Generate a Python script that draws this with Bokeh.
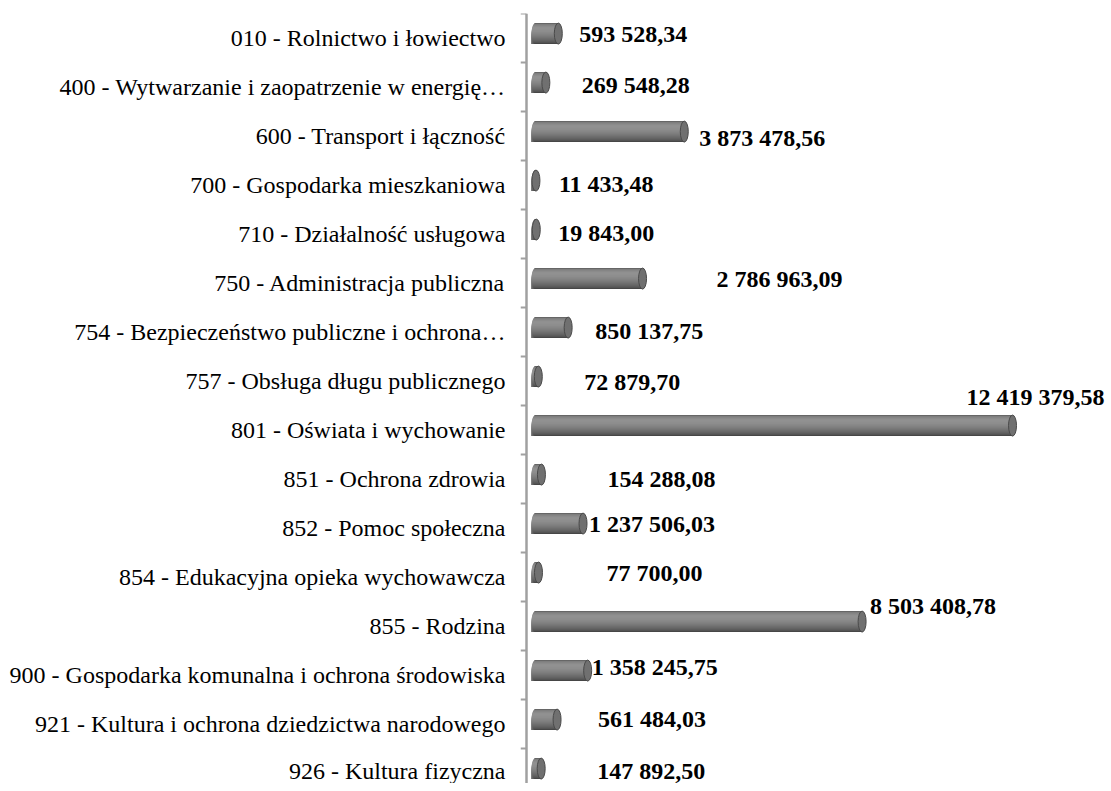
import numpy as np
from bokeh.plotting import figure
from bokeh.models import ColumnDataSource, Range1d, FixedTicker, Span
from bokeh.core.properties import value
from bokeh.embed import file_html
from bokeh.resources import INLINE

# ---------------- data ----------------
categories = [
    "010 - Rolnictwo i łowiectwo",
    "400 - Wytwarzanie i zaopatrzenie w energię…",
    "600 - Transport i łączność",
    "700 - Gospodarka mieszkaniowa",
    "710 - Działalność usługowa",
    "750 - Administracja publiczna",
    "754 - Bezpieczeństwo publiczne i ochrona…",
    "757 - Obsługa długu publicznego",
    "801 - Oświata i wychowanie",
    "851 - Ochrona zdrowia",
    "852 - Pomoc społeczna",
    "854 - Edukacyjna opieka wychowawcza",
    "855 - Rodzina",
    "900 - Gospodarka komunalna i ochrona środowiska",
    "921 - Kultura i ochrona dziedzictwa narodowego",
    "926 - Kultura fizyczna",
]
amounts = [593528.34, 269548.28, 3873478.56, 11433.48, 19843.00, 2786963.09,
           850137.75, 72879.70, 12419379.58, 154288.08, 1237506.03, 77700.00,
           8503408.78, 1358245.75, 561484.03, 147892.50]

# manual data-label placement (px, relative to bar end / bar centre), as in the original
label_dx = [17, 32, 11, 19, 18, 70, 23, 42, 88, 62, 2, 64, 4, 0, 37, 52]
label_dy = [0, 2, 6, 3, 3, 0, 3, 5, -29, 4, 0, 0, -16, -4, -1, 2]
label_right = [False] * 8 + [True] + [False] * 7

def fmt(v):
    return f"{v:,.2f}".replace(",", " ").replace(".", ",")

labels = [fmt(v) for v in amounts]

# ---------------- geometry / style ----------------
W, H = 1108, 783
LEFT = 520
TOP = 13
FRAME_W = W - LEFT
DPP = 26036.0                               # data units per pixel
X_START = -15 * DPP
X_END = X_START + FRAME_W * DPP
TICK_LEN = 6
AXIS_X = X_START + TICK_LEN * DPP
CAP = 4 * DPP                               # half width of cylinder end (data)
ROW_PX = 49
HH = 10.5 / ROW_PX                          # half bar height (rows)
SHIFT = -0.09                               # bars slightly above row centre
n = len(categories)
rows = np.arange(n)

NS = 21
ts = np.linspace(-1, 1, NS + 1)
ctrl_t = [-1.0, -0.85, -0.55, -0.2, 0.2, 0.6, 0.85, 1.0]
ctrl_v = [0x5a, 0x80, 0x92, 0x8e, 0x7e, 0x68, 0x56, 0x40]

sx_l, sx_r, sy, sh, sc = [], [], [], [], []
for i, v in enumerate(amounts):
    yc = i + SHIFT
    for k in range(NS):
        t0 = ts[k]
        tm = (ts[k] + ts[k + 1]) / 2
        g = int(np.interp(tm, ctrl_t, ctrl_v))
        sx_l.append(-CAP * np.sqrt(max(0.0, 1 - tm * tm)))
        sx_r.append(v)
        sy.append(yc + (t0 + 1) / 2 * HH)
        sh.append((1 - t0) * HH)
        sc.append("#%02x%02x%02x" % (g, g, g))
stripes = ColumnDataSource(dict(left=sx_l, right=sx_r, y=sy, h=sh, color=sc))

p = figure(width=W, height=H, output_backend="svg", toolbar_location=None,
           x_range=Range1d(X_START, X_END),
           y_range=Range1d(-0.5 + (H - TOP) / ROW_PX, -0.5),
           x_axis_location=None,
           min_border_left=LEFT, min_border_right=0,
           min_border_top=TOP, min_border_bottom=0)
p.grid.visible = False
p.outline_line_color = None
p.background_fill_color = "white"
p.border_fill_color = "white"

# category axis line and boundary ticks
p.add_layout(Span(location=AXIS_X, dimension="height",
                  line_color="#a0a0a0", line_width=2.5))
bounds = [i - 0.5 for i in range(n + 1)]
p.segment(x0=[X_START] * len(bounds), x1=[AXIS_X] * len(bounds),
          y0=bounds, y1=bounds, line_color="#a0a0a0", line_width=2)

p.hbar(y="y", left="left", right="right", height="h",
       fill_color="color", line_color=None, source=stripes)

caps = ColumnDataSource(dict(x=amounts, y=list(rows + SHIFT)))
p.ellipse(x="x", y="y", width=8, height=21, width_units="screen",
          height_units="screen", fill_color="#707070", line_color="#4a4a4a",
          line_width=1, source=caps)

ax = p.yaxis[0]
ax.ticker = FixedTicker(ticks=list(range(n)))
ax.major_label_overrides = {i: c for i, c in enumerate(categories)}
ax.major_tick_line_color = None
ax.minor_tick_line_color = None
ax.major_tick_in = 0
ax.major_tick_out = 0
ax.axis_line_color = None
ax.major_label_standoff = 15
ax.major_label_text_font = "Liberation Serif"
ax.major_label_text_font_size = "24px"
ax.major_label_text_color = "black"

def label_source(right):
    idx = [i for i in range(n) if label_right[i] == right]
    return ColumnDataSource(dict(
        x=[amounts[i] for i in idx],
        y=[i + SHIFT for i in idx],
        text=[labels[i] for i in idx],
        dx=[4 + label_dx[i] for i in idx],
        dy=[label_dy[i] for i in idx],
    ))

for right in (False, True):
    p.text(x="x", y="y", text="text", x_offset="dx", y_offset="dy",
           source=label_source(right), text_font=value("Liberation Serif"),
           text_font_style="bold", text_font_size="24px", text_color="black",
           text_align="right" if right else "left", text_baseline="middle")

open("out.html", "w").write(file_html(p, INLINE))
